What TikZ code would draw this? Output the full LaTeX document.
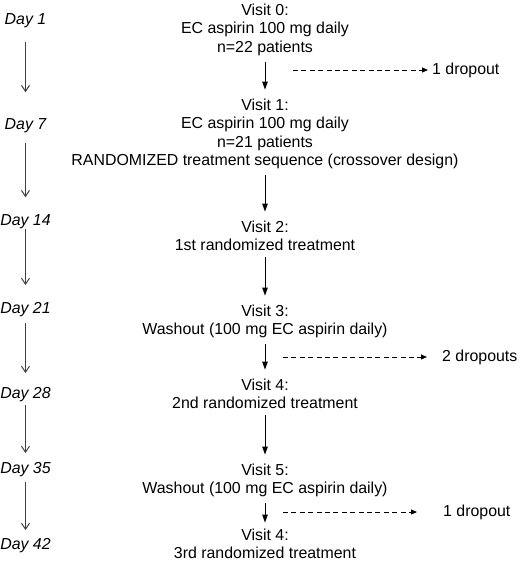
\documentclass[tikz,border=0pt]{standalone}
\usepackage{fontspec}
\setmainfont{Liberation Sans}
\usetikzlibrary{arrows.meta,positioning}

\begin{document}
\begin{tikzpicture}[x=1pt,y=-1pt,inner sep=0pt,
  font=\fontsize{15.9}{18.5}\selectfont,
  day/.style={anchor=base,font=\fontsize{15.9}{18.5}\selectfont\itshape},
  visit/.style={anchor=north,align=center},
  dayline/.style={draw=black!75,line width=1pt,-{Straight Barb[length=6pt,width=8pt]}},
  visitline/.style={draw,line width=1pt,-{Triangle[length=8pt,width=5.5pt]},shorten <=6pt,shorten >=9pt},
  dropline/.style={draw,line width=1pt,dash pattern=on 5pt off 3.4pt,-{Triangle[length=6pt,width=5pt]}}]
  \useasboundingbox (0,0) rectangle (520,563);

  %days
  \node[day] (d1) at (25.5,24) {Day 1};
  \node[day] (d7) at (25.5,129) {Day 7};
  \node[day] (d14) at (25.5,225) {Day 14};
  \node[day] (d21) at (25.5,313) {Day 21};
  \node[day] (d28) at (25.5,398) {Day 28};
  \node[day] (d35) at (25.5,473) {Day 35};
  \node[day] (d42) at (25.5,549) {Day 42};

  %visits
  \node[visit] (v0) at (265,3.6) {Visit 0:\\EC aspirin 100 mg daily\\n=22 patients};
  \node[visit] (v1) at (265,98.6) {Visit 1:\\EC aspirin 100 mg daily\\n=21 patients\\RANDOMIZED treatment sequence (crossover design)};
  \node[visit] (v2) at (265,220.6) {Visit 2:\\1st randomized treatment};
  \node[visit] (v3) at (265,304.6) {Visit 3:\\Washout (100 mg EC aspirin daily)};
  \node[visit] (v4) at (265,378.6) {Visit 4:\\2nd randomized treatment};
  \node[visit] (v5) at (265,463.6) {Visit 5:\\Washout (100 mg EC aspirin daily)};
  \node[visit] (v6) at (265,528.6) {Visit 4:\\3rd randomized treatment};

  %dropouts
  \coordinate (c0) at (293,70);
  \coordinate (c3) at (283,357);
  \coordinate (c5) at (283,512);
  \node[anchor=west] (drop0) [right=139pt of c0] {1 dropout};
  \node[anchor=west] (drop3) [right=159pt of c3] {2 dropouts};
  \node[anchor=west] (drop5) [right=160pt of c5] {1 dropout};

  \path (d1) edge[dayline,shorten <=14.7pt,shorten >=25.6pt] (d7)
        (d7) edge[dayline,shorten <=10.7pt,shorten >=16.6pt] (d14)
        (d14) edge[dayline,shorten <=0pt,shorten >=16.6pt] (d21)
        (d21) edge[dayline,shorten <=6.7pt,shorten >=13.6pt] (d28)
        (d28) edge[dayline,shorten <=3.7pt,shorten >=8.6pt] (d35)
        (d35) edge[dayline,shorten <=5.7pt,shorten >=7.6pt] (d42);
  \path (v0) edge[visitline] (v1)
        (v1) edge[visitline] (v2)
        (v2) edge[visitline] (v3)
        (v3) edge[visitline] (v4)
        (v4) edge[visitline] (v5)
        (v5) edge[visitline,shorten >=6pt] (v6);
  \path (c0) edge[dropline,shorten >=4pt] (drop0)
        (c3) edge[dropline,shorten >=15pt] (drop3)
        (c5) edge[dropline,shorten >=26pt] (drop5);
\end{tikzpicture}
\end{document}
